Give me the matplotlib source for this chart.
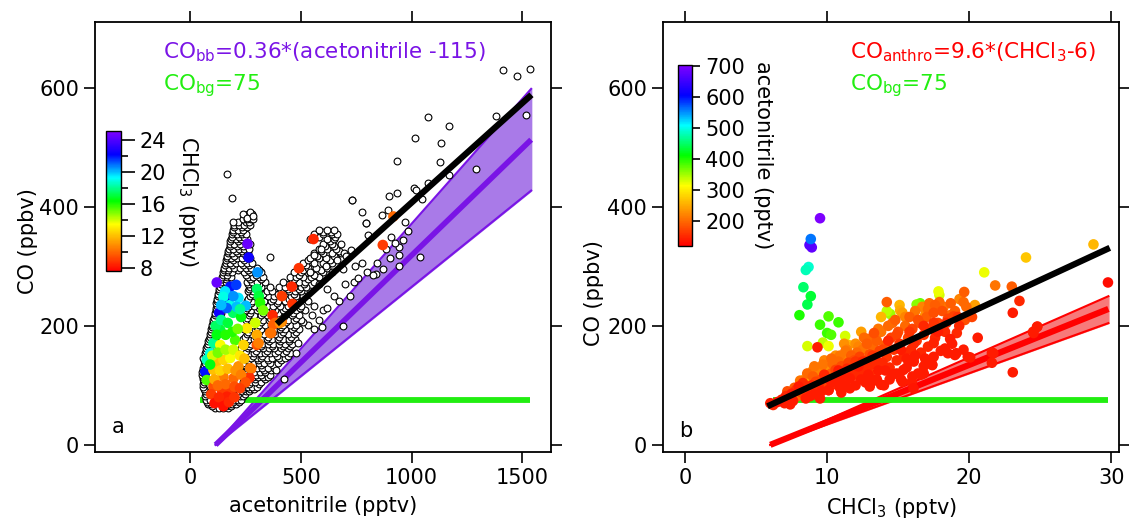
import numpy as np
import matplotlib.pyplot as plt
from matplotlib.colors import LinearSegmentedColormap

plt.rcParams['font.family'] = ['DejaVu Sans']
plt.rcParams['mathtext.default'] = 'regular'

# ---------------- panel a data ----------------
# all points (open circles): CO level (ppbv) -> acetonitrile values (pptv)
open_rows_a = {
    62: [110, 130, 150, 170],
    65: [100, 160, 185],
    68: [80, 95, 175, 190, 205],
    72: [78, 195, 222],
    75: [72, 88, 200, 215, 230],
    82: [68, 210, 225, 240],
    86: [70, 217, 247],
    90: [65, 220, 235, 250, 265],
    94: [63, 238, 272, 290],
    98: [60, 230, 245, 260, 280, 300],
    102: [57, 251, 268, 310],
    106: [62, 240, 255, 275, 295, 320],
    110: [60, 243, 292, 340],
    114: [58, 250, 285, 305, 330, 350],
    118: [52, 66, 258, 298, 322, 362],
    122: [55, 70, 245, 265, 290, 315, 340],
    126: [58, 250, 272, 335, 365],
    130: [60, 78, 255, 280, 300, 325, 350, 380],
    134: [62, 80, 248, 286, 318, 372],
    138: [65, 85, 240, 265, 290, 310, 335, 360, 395],
    142: [64, 88, 262, 305, 352, 410],
    146: [60, 90, 255, 275, 300, 320, 345, 370, 400, 430],
    150: [66, 92, 238, 283, 326, 392, 440],
    154: [68, 95, 245, 270, 290, 315, 340, 360, 385, 420, 450],
    158: [70, 98, 252, 298, 348, 398, 432],
    162: [72, 100, 230, 260, 280, 310, 330, 355, 380, 410, 440],
    166: [76, 102, 242, 268, 318, 368, 418, 452],
    170: [80, 105, 250, 275, 300, 325, 350, 375, 400, 430, 460],
    174: [82, 108, 258, 306, 358, 408, 445],
    178: [85, 110, 240, 265, 290, 320, 345, 370, 395, 420, 445, 475],
    182: [88, 112, 248, 298, 350, 400, 455],
    186: [90, 115, 255, 280, 305, 335, 360, 385, 410, 440, 470],
    190: [92, 118, 262, 312, 372, 418, 480],
    194: [95, 120, 245, 270, 295, 320, 350, 380, 405, 430, 460, 490, 560],
    198: [98, 122, 252, 302, 355, 412, 470],
    202: [100, 125, 260, 285, 310, 340, 365, 395, 420, 450, 480, 530],
    206: [102, 128, 268, 318, 372, 435, 510],
    210: [105, 130, 250, 275, 300, 330, 355, 380, 410, 440, 470, 500, 580],
    214: [108, 132, 258, 308, 362, 420, 480],
    218: [110, 135, 265, 290, 320, 345, 370, 400, 430, 460, 490, 550],
    222: [112, 138, 272, 330, 395, 465],
    226: [115, 140, 250, 275, 300, 330, 360, 385, 420, 450, 480, 520, 600],
    230: [118, 142, 258, 310, 370, 430, 495],
    234: [120, 145, 265, 290, 315, 345, 375, 405, 440, 470, 500, 560],
    238: [118, 148, 275, 328, 390, 455],
    242: [120, 150, 255, 280, 305, 335, 365, 395, 430, 465, 490, 530],
    246: [122, 145, 262, 312, 372, 445, 505],
    250: [125, 140, 270, 295, 320, 350, 380, 420, 455, 480, 510],
    254: [128, 148, 278, 330, 398, 468],
    258: [130, 150, 260, 285, 310, 345, 370, 410, 445, 475, 500, 540],
    262: [132, 152, 265, 305, 440, 490],
    266: [135, 155, 270, 290, 320, 360, 400, 430, 470, 500, 525],
    270: [138, 158, 262, 312, 445, 512],
    274: [140, 160, 255, 280, 300, 340, 420, 460, 490, 520, 560],
    278: [142, 162, 272, 320, 470, 530],
    282: [145, 165, 185, 260, 285, 310, 330, 450, 480, 510, 545, 580],
    286: [148, 168, 252, 298, 490, 560],
    290: [150, 170, 190, 245, 270, 295, 320, 470, 500, 540, 600],
    294: [152, 172, 215, 262, 310, 510, 590],
    298: [155, 175, 200, 225, 250, 275, 300, 495, 530, 570, 620],
    302: [158, 190, 240, 268, 525, 610],
    306: [160, 180, 205, 230, 255, 280, 510, 560, 600, 640],
    310: [162, 195, 245, 530, 630],
    314: [165, 185, 210, 235, 260, 270, 540, 580, 615, 660],
    318: [168, 200, 250, 575, 650],
    322: [170, 190, 215, 240, 262, 560, 600, 640, 680],
    326: [172, 205, 232, 255, 590, 670],
    330: [175, 195, 220, 245, 265, 580, 620, 660],
    334: [178, 210, 238, 610, 650],
    338: [180, 200, 225, 250, 270, 600, 640, 680],
    342: [182, 215, 242, 630],
    346: [185, 205, 230, 255, 540, 620, 650],
    350: [188, 220, 245, 580, 655],
    354: [190, 210, 235, 250, 560, 600, 640, 665],
    358: [192, 228, 600, 635],
    362: [195, 215, 240, 580, 620, 650],
    366: [198, 232, 258],
    370: [200, 220, 245, 270],
    375: [215, 250, 265],
    380: [240, 255, 275, 285],
    388: [262, 280],
}
# scattered high points (acetonitrile, CO)
sparse_a = [(1414, 630), (1475, 620), (1533, 632), (1518, 554), (1381, 553), (1072, 552),
            (1168, 536), (1016, 516), (1132, 507), (933, 478), (1129, 475), (1290, 463),
            (1167, 454), (1076, 441), (1012, 431), (1020, 428), (1046, 414), (933, 423),
            (900, 419), (732, 411), (778, 392), (867, 387), (894, 395), (792, 373), (801, 353),
            (693, 322), (738, 274), (840, 288), (903, 314), (941, 333), (941, 300), (1039, 316),
            (986, 360), (971, 375), (690, 200), (595, 198), (674, 241), (617, 230), (489, 172),
            (479, 155), (425, 111), (388, 125), (361, 315), (730, 412), (794, 373),
            (167, 456), (188, 415), (193, 374), (240, 388), (255, 382), (270, 392), (285, 385),
            (560, 320), (590, 330), (615, 300), (640, 290), (665, 310), (690, 295), (705, 318),
            (725, 328), (745, 300), (760, 280), (775, 305), (800, 290), (825, 285), (845, 305),
            (870, 295), (885, 330), (905, 350), (925, 340), (945, 320), (960, 345), (620, 262),
            (650, 250), (700, 270), (720, 250), (580, 270), (540, 290)]
# subset coloured by CHCl3: (acetonitrile, CO, CHCl3)
colored_a = [(259, 338, 24.5), (264, 315, 22.5), (120, 273, 24.5), (181, 266, 22), (208, 269, 21.5),
             (304, 290, 20.5), (158, 258, 19.5), (158, 244, 22.5), (218, 247, 19.5), (251, 234, 20),
             (131, 222, 22.5), (302, 262, 17.5), (310, 250, 17), (316, 239, 16), (330, 226, 15),
             (294, 205, 14), (256, 196, 13), (372, 218, 8.5), (375, 202, 9.8), (366, 188, 10),
             (414, 207, 10.5), (414, 250, 9), (459, 266, 8.5), (491, 297, 8.8), (557, 346, 8.5),
             (870, 336, 9), (918, 384, 10), (462, 237, 8.8), (301, 185, 11.5), (301, 168, 9.5),
             (276, 128, 10), (268, 113, 8.5), (150, 249, 19), (194, 222, 17.5), (136, 193, 17),
             (105, 171, 18), (90, 154, 19), (75, 143, 18.5), (136, 168, 13.5), (203, 176, 15.5),
             (241, 168, 12.5), (309, 171, 10.5), (361, 188, 10.2), (384, 205, 9.8), (406, 205, 11),
             (68, 123, 22), (75, 109, 15.5), (120, 140, 12), (150, 143, 12.5), (181, 146, 13.5),
             (218, 132, 11), (271, 129, 10.5), (263, 112, 8.7), (105, 126, 12), (150, 115, 10.5),
             (196, 112, 10), (105, 98, 9.5), (143, 92, 9), (181, 92, 9), (120, 76, 8.2),
             (143, 70, 8), (166, 81, 8.3), (115, 200, 17.5), (140, 210, 18), (170, 205, 17),
             (190, 190, 16), (215, 195, 15), (230, 215, 16.5), (120, 185, 16.5), (160, 185, 16),
             (100, 150, 14), (125, 155, 15), (160, 160, 14.5), (195, 160, 14), (225, 150, 13),
             (245, 145, 12), (90, 135, 16.5), (110, 110, 11.5), (135, 125, 12.5), (170, 128, 12),
             (205, 125, 11), (230, 118, 10.5), (250, 105, 9.5), (95, 85, 9), (125, 100, 10),
             (160, 102, 10), (200, 98, 9.5), (225, 95, 9), (110, 70, 8), (130, 80, 8.5),
             (150, 65, 8), (175, 72, 8.5), (200, 80, 8.8), (180, 235, 19), (210, 232, 20),
             (165, 230, 21), (195, 250, 20.5), (225, 228, 18), (140, 235, 20)]

fit_a_x = [402, 1531]
fit_a_y = [207, 585]
bb_slope, bb_offset = 0.36, 115
bb_slope_lo, bb_slope_hi = 0.30, 0.42
bb_x_end = 1540
bg_co = 75
bg_a_x = [45, 1536]

# ---------------- panel b data ----------------
# (CHCl3, CO, acetonitrile)
pts_b = [(9.5, 381, 700), (8.85, 346, 560), (8.92, 332, 680), (8.76, 336, 670), (8.69, 299, 490),
         (8.5, 294, 480), (8.33, 265, 450), (8.85, 250, 430), (8.61, 236, 440), (8.05, 218, 400),
         (10.1, 216, 380), (10.8, 206, 390), (9.5, 202, 390), (10.0, 188, 390), (10.28, 185, 380),
         (11.27, 183, 330), (8.61, 166, 330), (9.32, 164, 140), (10.1, 166, 320), (9.7, 172, 340),
         (11.5, 168, 260), (14.2, 225, 340), (14.44, 220, 350), (15.14, 226, 250), (16.3, 236, 360),
         (16.55, 238, 370), (28.75, 337, 260), (24.0, 315, 270), (21.06, 290, 320), (29.77, 273, 130),
         (21.83, 268, 210), (23.0, 266, 190), (23.54, 242, 150), (23.07, 222, 140), (17.84, 258, 320),
         (17.9, 252, 330), (19.65, 257, 190), (19.32, 245, 220), (24.77, 198, 140), (24.53, 188, 140),
         (23.07, 122, 140), (21.6, 155, 140), (21.6, 138, 140), (20.07, 147, 140), (17.6, 235, 190),
         (20.4, 235, 240), (18.66, 218, 200), (19.7, 210, 180), (18.66, 178, 140), (19.13, 188, 150),
         (19.0, 151, 140), (18.3, 162, 140), (17.5, 171, 145), (17.5, 148, 140), (16.8, 132, 140),
         (16.8, 120, 140), (15.96, 106, 140), (16.08, 95, 135), (15.37, 126, 140), (18.9, 216, 170),
         (6.0, 70, 140), (6.2, 67, 150), (6.5, 72, 135), (6.8, 76, 140), (7.0, 70, 140),
         (7.1, 82, 150), (7.3, 78, 170), (7.5, 86, 140), (7.6, 74, 140), (7.8, 92, 160),
         (7.9, 82, 200), (8.0, 98, 140), (8.2, 88, 170), (8.3, 104, 150), (8.4, 95, 220),
         (8.5, 78, 140), (8.7, 108, 260), (8.8, 92, 180), (8.9, 100, 150), (9.0, 115, 190),
         (9.1, 85, 140), (9.2, 106, 170), (9.3, 96, 160), (9.4, 122, 220), (9.5, 78, 140),
         (9.6, 110, 180), (9.8, 118, 150), (9.9, 100, 170), (10.0, 128, 230), (10.1, 92, 140),
         (10.2, 110, 160), (10.3, 120, 190), (10.4, 136, 200), (10.5, 102, 150), (10.6, 126, 170),
         (10.7, 115, 150), (10.8, 140, 200), (10.9, 108, 140), (11.0, 132, 180), (11.1, 120, 160),
         (11.2, 145, 220), (11.3, 100, 140), (11.4, 128, 150), (11.5, 138, 170), (11.6, 112, 140),
         (11.7, 150, 190), (11.8, 124, 160), (11.9, 142, 180), (12.0, 118, 150), (12.1, 155, 200),
         (12.2, 132, 140), (12.3, 148, 170), (12.4, 110, 140), (12.5, 160, 210), (12.6, 126, 150),
         (12.7, 140, 160), (12.8, 170, 190), (12.9, 118, 140), (13.0, 152, 180), (13.1, 135, 150),
         (13.2, 165, 200), (13.3, 108, 140), (13.4, 145, 160), (13.5, 175, 190), (13.6, 125, 140),
         (13.7, 158, 170), (13.8, 190, 210), (13.9, 138, 150), (14.0, 100, 140), (14.1, 168, 190),
         (14.2, 148, 160), (14.3, 200, 200), (14.4, 130, 150), (14.5, 180, 170), (14.6, 118, 140),
         (14.7, 160, 160), (14.8, 210, 190), (14.9, 142, 150), (15.0, 190, 180), (15.1, 170, 160),
         (15.2, 110, 140), (15.3, 222, 240), (15.4, 150, 150), (15.5, 200, 200), (15.6, 130, 140),
         (15.7, 180, 170), (15.8, 215, 190), (15.9, 160, 150), (16.0, 195, 170), (16.1, 140, 140),
         (16.2, 225, 210), (16.3, 175, 160), (16.4, 120, 140), (16.5, 205, 180), (16.6, 155, 150),
         (16.7, 232, 220), (16.8, 185, 160), (16.9, 145, 140), (17.0, 215, 190), (17.1, 165, 150),
         (17.2, 238, 200), (17.3, 195, 170), (17.4, 135, 140), (17.5, 222, 180), (17.6, 180, 150),
         (17.8, 205, 170), (18.0, 158, 140), (18.2, 232, 210), (18.3, 190, 150), (18.5, 212, 170),
         (18.8, 170, 140), (19.0, 225, 190), (19.3, 200, 150), (19.6, 160, 140), (19.8, 232, 200),
         (20.2, 215, 170), (20.6, 180, 140), (8.5, 112, 250), (9.0, 125, 230), (9.7, 135, 210),
         (10.3, 145, 200), (10.9, 150, 210), (11.4, 160, 220), (12.0, 170, 230), (12.6, 180, 200),
         (13.3, 188, 180), (12.3, 125, 170), (13.0, 120, 160), (10.1, 92, 140), (10.9, 96, 140),
         (13.8, 101, 140), (15.3, 106, 140), (16.0, 115, 140), (16.6, 118, 140), (17.4, 134, 140),
         (18.5, 154, 140), (19.1, 154, 140), (19.9, 148, 140), (21.7, 154, 140), (24.5, 190, 140),
         (24.8, 199, 140), (11.0, 88, 140), (12.0, 100, 140), (13.5, 110, 140),
         (7.2, 90, 180), (7.7, 96, 190), (8.1, 108, 210), (8.6, 120, 200), (9.1, 132, 210),
         (9.4, 100, 150), (9.8, 142, 220), (10.3, 105, 140), (10.6, 150, 230), (11.0, 115, 140),
         (11.3, 158, 210), (11.8, 135, 170), (12.2, 165, 220), (12.5, 140, 150), (12.9, 178, 200),
         (13.2, 150, 160), (13.6, 195, 210), (13.9, 160, 170), (14.3, 175, 150), (14.6, 205, 200),
         (14.9, 185, 170), (15.2, 160, 140), (15.5, 215, 220), (15.8, 190, 160), (16.1, 170, 150),
         (16.4, 210, 180), (16.8, 200, 150), (17.1, 228, 200), (17.5, 205, 160), (17.8, 190, 140),
         (18.1, 225, 180), (18.4, 205, 150), (18.7, 238, 190), (19.2, 215, 160), (19.6, 240, 200),
         (12.0, 140, 160), (12.8, 130, 150), (13.5, 140, 150), (14.1, 125, 140), (14.9, 120, 140),
         (15.6, 145, 140), (16.2, 150, 140), (13.0, 98, 140), (10.8, 125, 140), (9.6, 90, 140),
         (8.8, 82, 140), (7.4, 68, 140), (11.6, 95, 140), (12.7, 105, 140), (14.4, 110, 140),
         (13.8, 215, 260), (12.4, 190, 240), (11.2, 170, 230), (16.9, 218, 230), (15.1, 235, 260),
         (14.2, 240, 190), (17.9, 240, 200)]

fit_b_x = [6.0, 29.7]
fit_b_y = [67, 329]
an_slope, an_offset = 9.6, 6
an_slope_lo, an_slope_hi = 8.6, 10.5
an_x_end = 29.8
bg_b_x = [6.2, 29.8]

rainbow = LinearSegmentedColormap.from_list(
    'igor_rainbow', ['#ff0000', '#ff8000', '#ffff00', '#00ff00', '#00ffff', '#0000ff', '#8000ff'])

purple = '#7a14e6'
green = '#22ee11'
red = '#ff0000'

fig = plt.figure(figsize=(11.29, 5.2), dpi=100)
ax1 = fig.add_axes([0.0841, 0.1308, 0.404, 0.827])
ax2 = fig.add_axes([0.5873, 0.1308, 0.404, 0.827])

# ---- panel a
xb = np.array([bb_offset, bb_x_end])
ax1.fill_between(xb, bb_slope_lo * (xb - bb_offset), bb_slope_hi * (xb - bb_offset),
                 color='#a97ae8', zorder=1)
ax1.plot(xb, bb_slope_lo * (xb - bb_offset), color=purple, lw=1.5, zorder=2)
ax1.plot(xb, bb_slope_hi * (xb - bb_offset), color=purple, lw=1.5, zorder=2)
ax1.plot(xb, bb_slope * (xb - bb_offset), color=purple, lw=4, zorder=2, solid_capstyle='butt')
ax1.plot(bg_a_x, [bg_co, bg_co], color=green, lw=4.2, zorder=2, solid_capstyle='butt')

ox, oy = [], []
for co, acns in open_rows_a.items():
    for a in acns:
        ox.append(a)
        oy.append(co)
for a, co in sparse_a:
    ox.append(a)
    oy.append(co)
ax1.scatter(ox, oy, s=24, facecolor='white', edgecolor='black', linewidths=0.8, zorder=3)

ca = np.array(colored_a)
sc1 = ax1.scatter(ca[:, 0], ca[:, 1], c=ca[:, 2], cmap=rainbow, vmin=7.6, vmax=25.1,
                  s=58, edgecolors='none', zorder=4)
ax1.plot(fit_a_x, fit_a_y, color='black', lw=4.5, zorder=5)

ax1.set_xlim(-430, 1630)
ax1.set_ylim(-12, 711)
ax1.set_xticks([0, 500, 1000, 1500])
ax1.set_xlabel('acetonitrile (pptv)', fontsize=15, labelpad=6)
ax1.set_ylabel('CO (ppbv)', fontsize=15)
ax1.yaxis.set_label_coords(-0.125, 0.49)
ax1.text(0.036, 0.045, 'a', transform=ax1.transAxes, fontsize=15)
ax1.text(0.149, 0.915, 'CO$_{bb}$=0.36*(acetonitrile -115)', transform=ax1.transAxes,
         fontsize=15.5, color=purple)
ax1.text(0.149, 0.84, 'CO$_{bg}$=75', transform=ax1.transAxes, fontsize=15.5, color=green)

# ---- panel b
xr = np.array([an_offset, an_x_end])
ax2.fill_between(xr, an_slope_lo * (xr - an_offset), an_slope_hi * (xr - an_offset),
                 color='#f77a7a', zorder=1)
ax2.plot(xr, an_slope_lo * (xr - an_offset), color=red, lw=1.5, zorder=2)
ax2.plot(xr, an_slope_hi * (xr - an_offset), color=red, lw=1.5, zorder=2)
ax2.plot(xr, an_slope * (xr - an_offset), color=red, lw=4.5, zorder=2, solid_capstyle='butt')
ax2.plot(bg_b_x, [bg_co, bg_co], color=green, lw=4.2, zorder=2, solid_capstyle='butt')

pb = np.array(pts_b)
order = np.argsort(-pb[:, 2])
pb = pb[order]
sc2 = ax2.scatter(pb[:, 0], pb[:, 1], c=pb[:, 2], cmap=rainbow, vmin=119, vmax=703,
                  s=58, edgecolors='none', zorder=3)
ax2.plot(fit_b_x, fit_b_y, color='black', lw=4.5, zorder=5)

ax2.set_xlim(-1.55, 30.56)
ax2.set_ylim(-12, 711)
ax2.set_xticks([0, 10, 20, 30])
ax2.set_xlabel('CHCl$_3$ (pptv)', fontsize=15, labelpad=6)
ax2.set_ylabel('CO (ppbv)', fontsize=15)
ax2.yaxis.set_label_coords(-0.13, 0.37)
ax2.text(0.036, 0.035, 'b', transform=ax2.transAxes, fontsize=15)
ax2.text(0.41, 0.915, 'CO$_{anthro}$=9.6*(CHCl$_3$-6)', transform=ax2.transAxes,
         fontsize=15.5, color=red)
ax2.text(0.41, 0.84, 'CO$_{bg}$=75', transform=ax2.transAxes, fontsize=15.5, color=green)

for ax in (ax1, ax2):
    ax.set_yticks([0, 200, 400, 600])
    ax.tick_params(direction='out', length=8, width=1.2, labelsize=15, top=True, right=True,
                   labeltop=False, labelright=False)
    for sp in ax.spines.values():
        sp.set_linewidth(1.3)

# ---- colour scales
cax1 = fig.add_axes([0.0939, 0.4788, 0.0133, 0.2692])
cb1 = fig.colorbar(sc1, cax=cax1, ticks=[8, 12, 16, 20, 24])
cax1.yaxis.set_ticks([10, 14, 18, 22], minor=True)
cax1.tick_params(which='major', length=10, width=1.2, labelsize=15, direction='out')
cax1.tick_params(which='minor', length=5, width=1.2, direction='out')
cb1.outline.set_linewidth(1)
cb1.set_label('CHCl$_3$ (pptv)', rotation=270, fontsize=15, labelpad=24)

cax2 = fig.add_axes([0.6005, 0.5269, 0.0124, 0.348])
cb2 = fig.colorbar(sc2, cax=cax2, ticks=[200, 300, 400, 500, 600, 700])
cax2.tick_params(length=6, width=1.2, labelsize=15, direction='out')
cb2.outline.set_linewidth(1)
cb2.set_label('acetonitrile (pptv)', rotation=270, fontsize=15, labelpad=20)

fig.savefig('out.png', dpi=100)
